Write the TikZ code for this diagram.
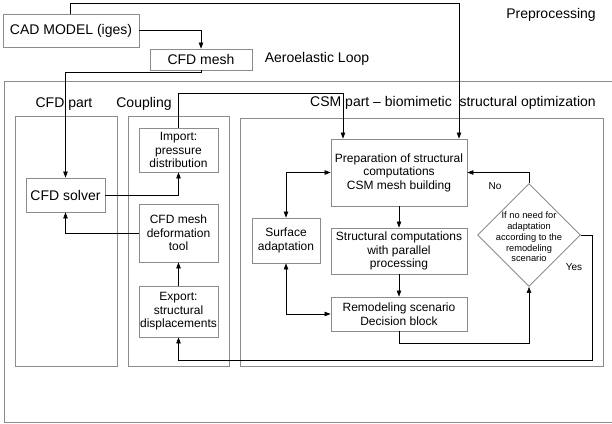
\documentclass[tikz,border=0pt]{standalone}
\usepackage{fontspec}
\setmainfont{Liberation Sans}
\usetikzlibrary{arrows.meta,shapes.geometric}
\tikzset{
  big/.style={font=\fontsize{14}{16}\selectfont},
  boxtxt/.style={font=\fontsize{12}{13.5}\selectfont},
  gbox/.style={draw=black!45, line width=0.9pt, align=center, inner sep=0pt, boxtxt},
  cont/.style={draw=black!45, line width=0.9pt},
  lbl/.style={big, inner sep=0pt},
  conn/.style={draw=black, line width=0.6pt},
  arr/.style={conn, -{Triangle[length=6pt,width=4.5pt]}},
  arrtwo/.style={conn, {Triangle[length=6pt,width=4.5pt]}-{Triangle[length=6pt,width=4.5pt]}},
}
\begin{document}
\begin{tikzpicture}[x=1pt,y=-1pt]
\useasboundingbox (0,0) rectangle (612,423);
% containers
\draw[cont] (4,81) rectangle (618,422);
\draw[cont] (15,116) rectangle (117,366);
\draw[cont] (128,116) rectangle (229,366);
\draw[cont] (240,118) rectangle (603,366);
% labels
\node[lbl] (lpre) at (551,15) {Preprocessing};
\node[lbl] (laero) at (317,59) {Aeroelastic Loop};
\node[lbl] (lcfd) at (64,104) {CFD part};
\node[lbl] (lcoup) at (144,104) {Coupling};
\node[lbl] (lcsm) at (453,103) {CSM part -- biomimetic\ \ structural optimization};
% boxes
\node[gbox, big, minimum width=136, minimum height=33] (cad) at (71,30.5) {CAD MODEL (iges)};
\node[gbox, big, minimum width=102, minimum height=21] (cfdmesh) at (201,59.5) {CFD mesh};
\node[gbox, big, minimum width=79, minimum height=34] (cfdsolver) at (65.5,195) {CFD solver};
\node[gbox, minimum width=79, minimum height=44] (import) at (178.5,150) {Import:\\pressure\\distribution};
\node[gbox, minimum width=79, minimum height=58] (deform) at (178.5,233) {CFD mesh\\deformation\\tool};
\node[gbox, minimum width=79, minimum height=51] (export) at (178.5,311.5) {Export:\\structural\\displacements};
\node[gbox, minimum width=136, minimum height=67] (prep) at (399,172.5) {Preparation of structural\\computations\\CSM mesh building};
\node[gbox, minimum width=136, minimum height=46] (struct) at (399,251) {Structural computations\\with parallel\\processing};
\node[gbox, minimum width=136, minimum height=34] (remod) at (399,314) {Remodeling scenario\\Decision block};
\node[gbox, minimum width=68, minimum height=45] (surf) at (286,240.5) {Surface\\adaptation};
\node[diamond, draw=black!45, line width=0.9pt, minimum width=103, minimum height=103, inner sep=0pt] (dec) at (529,235) {};
\node[align=center, inner sep=0pt, font=\fontsize{9.3}{10.8}\selectfont] (dectext) at (529,237) {If no need for\\adaptation\\according to the\\remodeling\\scenario};
\node[inner sep=0pt, font=\fontsize{10}{12}\selectfont] (lno) at (495,186) {No};
\node[inner sep=0pt, font=\fontsize{10}{12}\selectfont] (lyes) at (574,267) {Yes};
% helper coordinates
\coordinate (topr) at (459,3);
\coordinate (c1) at (343,93);
\coordinate (c2) at (592,360);
% connectors
\draw[arr] (cad.north -| 70,0) |- (topr) -- (topr |- prep.north);
\draw[arr] (cad.east) -| (cfdmesh.north);
\draw[arr] (cfdmesh.south) -- ++(0,2) -| (cfdsolver.north);
\draw[arr] (cfdsolver.east) -| (import.south);
\draw[arr] (import.north) |- (c1) -- (c1 |- prep.north);
\draw[arr] (deform.west) -| (cfdsolver.south);
\draw[arr] (export.north) -- (deform.south);
\draw[arr] (prep.south) -- (struct.north);
\draw[arr] (struct.south) -- (remod.north);
\draw[arrtwo] (prep.west) -| (surf.north);
\draw[arrtwo] (surf.south) |- (remod.west);
\draw[arr] (remod.south) -- ++(0,12) -| (dec.south);
\draw[arr] (dec.north) |- (prep.east);
\draw[arr] (dec.east) -| (c2) -| (export.south);
\end{tikzpicture}
\end{document}
